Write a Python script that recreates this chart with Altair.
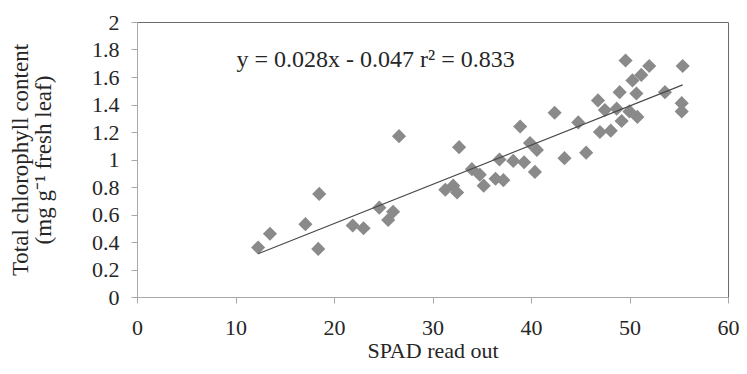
import altair as alt
import pandas as pd

# SPAD readings (x) and total chlorophyll content (y)
spad = [12.3, 13.5, 17.1, 18.5, 18.4, 21.9, 23.0, 24.6, 25.5, 26.0,
        26.6, 31.3, 32.1, 32.5, 32.7, 34.0, 34.8, 35.2, 36.4, 37.2,
        36.8, 38.2, 38.9, 39.3, 39.9, 40.6, 40.4, 42.4, 43.4, 44.8,
        45.6, 46.8, 47.5, 47.0, 48.1, 49.0, 48.7, 49.6, 52.0, 55.4,
        51.2, 50.3, 50.7, 53.6, 50.0, 50.8, 49.2, 55.3, 55.3]
chl = [0.36, 0.46, 0.53, 0.75, 0.35, 0.52, 0.50, 0.65, 0.56, 0.62,
       1.17, 0.78, 0.81, 0.76, 1.09, 0.93, 0.89, 0.81, 0.86, 0.85,
       1.00, 0.99, 1.24, 0.98, 1.12, 1.07, 0.91, 1.34, 1.01, 1.27,
       1.05, 1.43, 1.36, 1.20, 1.21, 1.49, 1.37, 1.72, 1.68, 1.68,
       1.615, 1.575, 1.48, 1.49, 1.35, 1.31, 1.28, 1.41, 1.35]

x_ticks = [0, 10, 20, 30, 40, 50, 60]
y_ticks = [0, 0.2, 0.4, 0.6, 0.8, 1.0, 1.2, 1.4, 1.6, 1.8, 2.0]

equation = ["y = 0.028x - 0.047 r\u00b2 = 0.833"]
eq_x = [10.1]
eq_y = [1.725]

x_title = "SPAD read out"
y_title = ["Total chlorophyll content", "(mg g\u207b\u00b9 fresh leaf)"]

FONT = "Liberation Serif"
TXT = "#262626"
AXC = "#a8a8a8"

df = pd.DataFrame({"spad": spad, "chl": chl})
eq_df = pd.DataFrame({"t": equation, "spad": eq_x, "chl": eq_y})

x_enc = alt.X("spad:Q",
              scale=alt.Scale(domain=[0, 60], nice=False),
              axis=alt.Axis(values=x_ticks, title=x_title, labelPadding=14,
                            titlePadding=2, labelOverlap=False,
                            labelFlush=False, titleFontSize=22))
y_enc = alt.Y("chl:Q",
              scale=alt.Scale(domain=[0, 2], nice=False),
              axis=alt.Axis(values=y_ticks, format=".1~f", title=y_title,
                            labelPadding=12, labelOverlap=False,
                            labelFlush=False, titleFontSize=23,
                            titleAngle=-90, titleX=-128,
                            titleBaseline="top", titleLineHeight=23))

points = alt.Chart(df).mark_point(
    shape="diamond", filled=True, size=200, color="#8a8a8a", opacity=1
).encode(x=x_enc, y=y_enc)

line = alt.Chart(df).transform_regression("spad", "chl").mark_line(
    color="#4a4a4a", strokeWidth=1.2
).encode(x=x_enc, y=y_enc)

text = alt.Chart(eq_df).mark_text(
    align="left", baseline="middle", font=FONT, fontSize=24, color=TXT
).encode(x=x_enc, y=y_enc, text="t:N")

chart = alt.layer(points, line, text).properties(
    width=591, height=275,
    padding={"left": 129, "top": 14, "right": 11, "bottom": 66},
    autosize="none",
).configure_view(
    stroke="#6b6b6b", strokeWidth=1
).configure_axis(
    grid=False, domainColor=AXC, tickColor=AXC, tickSize=6,
    labelFont=FONT, labelFontSize=22, labelColor=TXT,
    titleFont=FONT, titleFontWeight="normal", titleColor=TXT,
)

chart.save("out.html", embed_options={"renderer": "svg", "actions": False})
